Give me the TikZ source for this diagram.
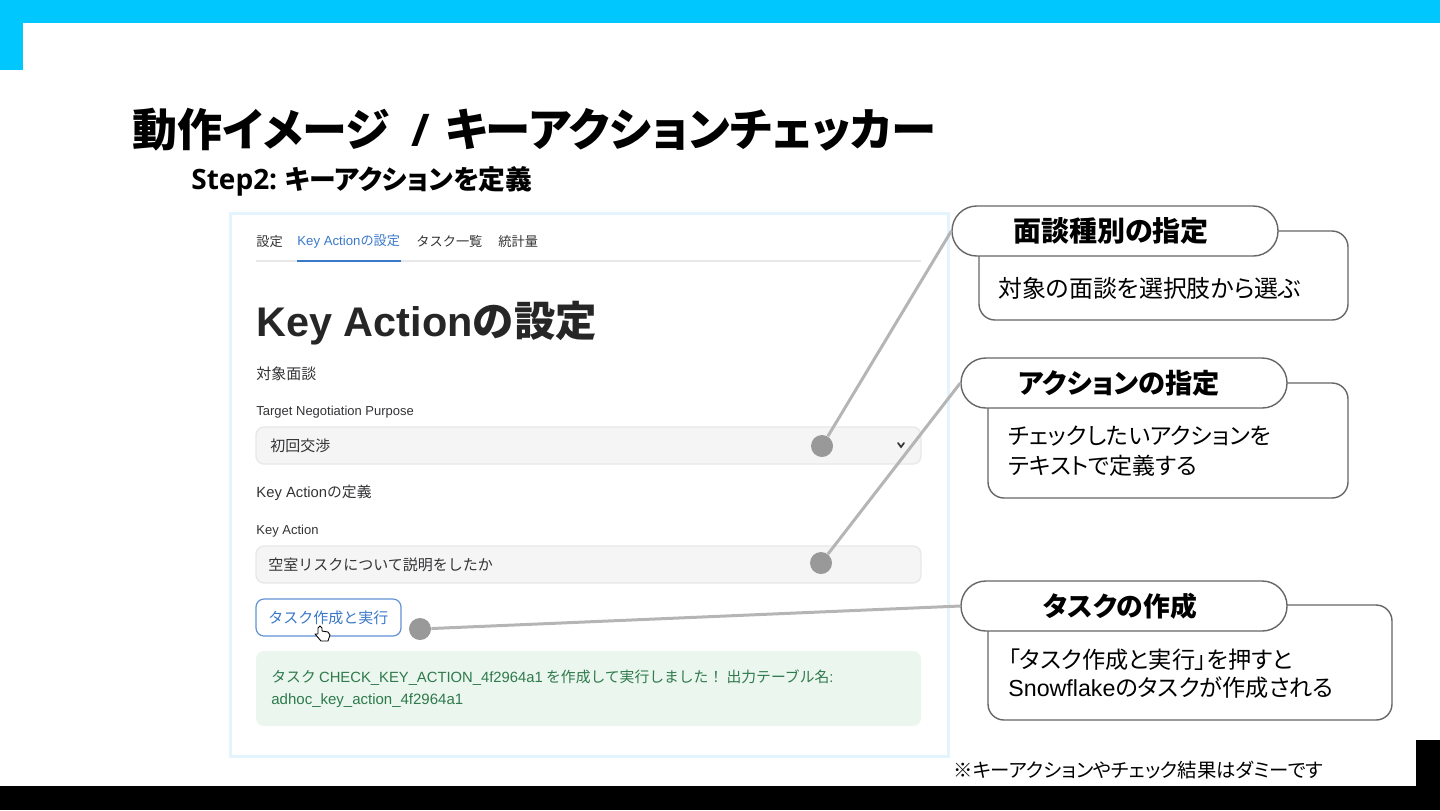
\documentclass[tikz,border=0pt]{standalone}
\usepackage{fontspec}
\setmainfont{Noto Sans CJK JP}
\newfontfamily\jpp[RawFeature=+palt]{Noto Sans CJK JP}
\newfontfamily\lat{Liberation Sans}
\newfontfamily\heads{Open Sans}
\newcommand{\fsz}[1]{\fontsize{#1pt}{14pt}\selectfont}
\newcommand{\headline}[2]{\raisebox{-1pt}{#2}\hspace*{#1}}
\definecolor{topcyan}{HTML}{00C8FF}
\definecolor{panelblue}{HTML}{E3F4FD}
\definecolor{tabblue}{HTML}{3A78C9}
\definecolor{uitext}{HTML}{333336}
\definecolor{fieldgray}{HTML}{F5F5F5}
\definecolor{fieldline}{HTML}{E8E8E8}
\definecolor{okgreen}{HTML}{EAF6EE}
\definecolor{okgreentext}{HTML}{2F7A4C}
\definecolor{leadergray}{HTML}{B5B5B5}
\definecolor{dotgray}{HTML}{999999}
\definecolor{calloutline}{HTML}{666666}
\tikzset{
    uilabel/.style = {anchor = west, inner sep = 0pt, text = uitext, font = {\fsz{6.6}}},
    inputbox/.style = {draw = fieldline, line width = 0.7pt, fill = fieldgray, rounded corners = 4pt},
    marker/.style = {circle, fill = dotgray, inner sep = 0pt, minimum size = 11pt},
    leader/.style = {draw = leadergray, line width = 1.5pt},
    calloutbody/.style = {draw = calloutline, line width = 0.7pt, fill = white, rounded corners = 8pt},
    callouthead/.style = {draw = calloutline, line width = 0.7pt, fill = white, rounded corners = 12.4pt,
        minimum width = 163pt, minimum height = 25pt, inner sep = 0pt, font = {\jpp\bfseries\fsz{14}}},
    callouttext/.style = {anchor = west, inner sep = 0pt, align = left, font = {\jpp\fsz{11.6}}}
}
\begin{document}
\begin{tikzpicture}[x=0.5pt, y=-0.5pt]
    \useasboundingbox (0, 0) rectangle (1440, 810);

    % slide frame
    \fill[topcyan] (0, 0) rectangle (1440, 23);
    \fill[topcyan] (0, 23) rectangle (23, 70);
    \fill[black] (0, 786) rectangle (1440, 810);
    \fill[black] (1416, 740) rectangle (1440, 786);

    \node[anchor = west, inner sep = 0pt, font = {\jpp\bfseries\fsz{22.5}}] (title) at (132, 130) {動作イメージ\hspace{11pt}{\heads\bfseries /}\hspace{7.5pt}{\fsz{22.7}キーアクションチェッカー}};
    \node[anchor = west, inner sep = 0pt, font = {\jpp\bfseries\fsz{13.4}}] (subtitle) at (191, 181) {{\heads\bfseries\fsz{14}Step2:}\hspace{4pt}キーアクションを定義};

    % screenshot
    \draw[draw = panelblue, line width = 1.5pt] (230, 213) rectangle (948, 756);

    \node[uilabel] (tabsetting) at (256, 241.5) {設定};
    \node[uilabel, text = tabblue] (tabkey) at (297, 241.5) {{\lat Key Action}の設定};
    \node[uilabel] (tabtask) at (416, 241.5) {タスク一覧};
    \node[uilabel] (tabstat) at (498, 241.5) {統計量};
    \draw[draw = fieldline, line width = 1pt] (256, 261) -- (921, 261);
    \draw[draw = tabblue, line width = 1pt] (297, 261) -- (401, 261);

    \node[uilabel, font = {\bfseries\fsz{20.7}}, text = black!85] (heading) at (256, 323) {{\lat Key Action}の設定};
    \node[uilabel, font = {\fsz{7.5}}] (labelmeeting) at (256, 374) {対象面談};
    \node[uilabel, font = {\lat\fsz{6.5}}] (labelpurpose) at (256, 412) {Target Negotiation Purpose};
    \draw[inputbox] (256, 427) rectangle (921, 464);
    \node[uilabel, font = {\fsz{7.5}}] (valuepurpose) at (270, 446) {初回交渉};
    \draw[line width = 0.85pt, draw = uitext, line cap = round] (898, 443) -- (901, 447) -- (904, 443);

    \node[uilabel, font = {\fsz{7.4}}] (labeldefine) at (256, 493) {{\lat Key Action}の定義};
    \node[uilabel, font = {\lat\fsz{6.5}}] (labelaction) at (256, 531) {Key Action};
    \draw[inputbox] (256, 546) rectangle (921, 583);
    \node[uilabel, font = {\fsz{7.5}}] (valueaction) at (268, 565) {空室リスクについて説明をしたか};

    \draw[draw = tabblue!80, fill = white, line width = 0.6pt, rounded corners = 4pt] (256, 599) rectangle (401, 636);
    \node[uilabel, text = tabblue, font = {\fsz{7.5}}] (buttontext) at (268, 618) {タスク作成と実行};

    % hand pointer
    \draw[fill = white, line width = 0.45pt, line join = round] (318, 628) -- (320, 626) -- (322, 628) -- (322, 631) -- (328, 632)
        -- (330, 635) -- (328, 641) -- (321, 641) -- (315, 634) -- (318, 634) -- cycle;

    \fill[okgreen, rounded corners = 4pt] (256, 651) rectangle (921, 726);
    \node[uilabel, text = okgreentext, font = {\fsz{7.4}}] (resultone) at (271, 678) {タスク {\lat CHECK\_KEY\_ACTION\_4f2964a1} を作成して実行しました！ 出力テーブル名{\lat :}};
    \node[uilabel, text = okgreentext, font = {\lat\fsz{7.5}}] (resulttwo) at (271, 701) {adhoc\_key\_action\_4f2964a1};

    % callouts
    \node[calloutbody, minimum width = 184.5pt, minimum height = 44.5pt] (bodymeeting) at (1163.5, 275.5) {};
    \node[callouthead] (headmeeting) at (1115, 231) {\headline{4pt}{面談種別の指定}};
    \node[callouttext, font = {\jpp\fsz{11.95}}] (textmeeting) at (998, 288.5) {対象の面談を選択肢から選ぶ};

    \node[calloutbody, minimum width = 180pt, minimum height = 57.5pt] (bodyaction) at (1168, 440.5) {};
    \node[callouthead, font = {\jpp\bfseries\fsz{13.6}}] (headaction) at (1124, 383) {\headline{5pt}{アクションの指定}};
    \node[callouttext, font = {\jpp\fsz{11.5}}] (textaction) at (1008, 451.5) {チェックしたいアクションを\\[1pt]テキストで定義する};

    \node[calloutbody, minimum width = 202pt, minimum height = 57.5pt] (bodytask) at (1190, 662.5) {};
    \node[callouthead, font = {\jpp\bfseries\fsz{13.4}}] (headtask) at (1124, 606) {\headline{4pt}{タスクの作成}};
    \node[callouttext] (texttask) at (1008, 674) {「タスク作成と実行」を押すと\\{\lat Snowflake}のタスクが作成される};

    \node[marker] (dotmeeting) at (822, 446) {};
    \node[marker] (dotaction) at (821, 563) {};
    \node[marker] (dottask) at (420, 629) {};
    \draw[leader] (dotmeeting) -- (headmeeting.west);
    \draw[leader] (dotaction) -- (headaction.west);
    \draw[leader] (dottask) -- (headtask.west);

    \node[anchor = west, inner sep = 0pt, font = {\jpp\fsz{9.7}}] (footnote) at (953, 770) {※キーアクションやチェック結果はダミーです};
\end{tikzpicture}
\end{document}
